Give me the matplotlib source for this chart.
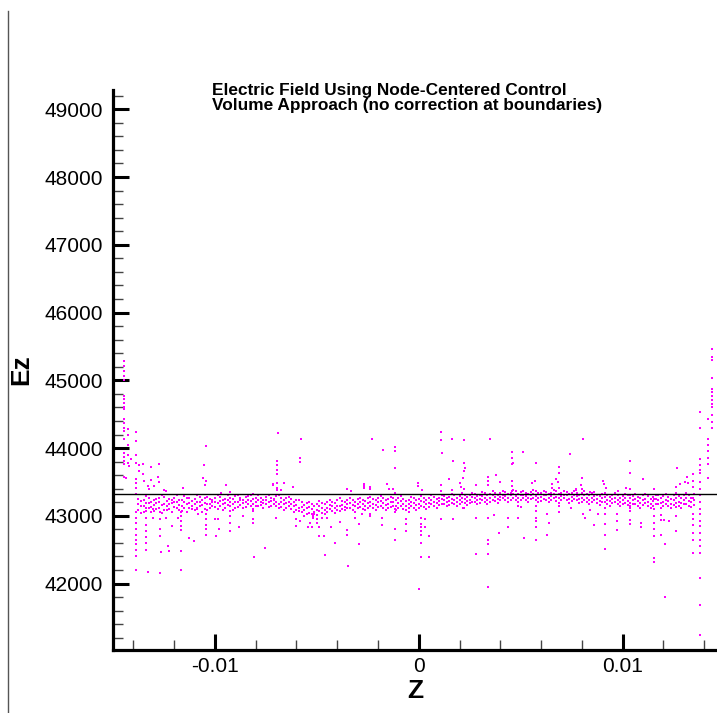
import numpy as np
import matplotlib.pyplot as plt
from matplotlib.ticker import MultipleLocator
from matplotlib.lines import Line2D

plt.rcParams['font.family'] = ['Liberation Sans', 'DejaVu Sans']

# dense band of Ez values (z, three Ez values read at that z)
band = [
    (-0.01375, 43250, 43170, 43080), (-0.01350, 43230, 43150, 43060), (-0.01325, 43270, 43190, 43110),
    (-0.01300, 43240, 43160, 43070), (-0.01275, 43260, 43200, 43120), (-0.01250, 43280, 43180, 43090),
    (-0.01225, 43250, 43170, 43100), (-0.01200, 43270, 43210, 43130), (-0.01175, 43240, 43160, 43080),
    (-0.01150, 43290, 43200, 43110), (-0.01125, 43260, 43190, 43120), (-0.01100, 43250, 43170, 43090),
    (-0.01075, 43280, 43210, 43140), (-0.01050, 43270, 43190, 43100), (-0.01025, 43250, 43180, 43110),
    (-0.01000, 43260, 43200, 43130), (-0.00975, 43280, 43220, 43150), (-0.00950, 43250, 43190, 43120),
    (-0.00925, 43270, 43210, 43140), (-0.00900, 43290, 43200, 43110), (-0.00875, 43260, 43230, 43160),
    (-0.00850, 43280, 43210, 43130), (-0.00825, 43300, 43220, 43150), (-0.00800, 43270, 43200, 43140),
    (-0.00775, 43260, 43210, 43160), (-0.00750, 43280, 43230, 43170), (-0.00725, 43270, 43220, 43150),
    (-0.00700, 43290, 43210, 43140), (-0.00675, 43260, 43200, 43130), (-0.00650, 43270, 43190, 43120),
    (-0.00625, 43250, 43180, 43100), (-0.00600, 43230, 43160, 43080), (-0.00575, 43200, 43130, 43050),
    (-0.00550, 43190, 43110, 43030), (-0.00525, 43180, 43100, 43020), (-0.00500, 43170, 43090, 43010),
    (-0.00475, 43190, 43110, 43040), (-0.00450, 43200, 43120, 43050), (-0.00425, 43210, 43140, 43070),
    (-0.00400, 43230, 43150, 43090), (-0.00375, 43220, 43160, 43100), (-0.00350, 43240, 43170, 43110),
    (-0.00325, 43230, 43160, 43090), (-0.00300, 43250, 43180, 43110), (-0.00275, 43240, 43170, 43100),
    (-0.00250, 43260, 43190, 43120), (-0.00225, 43250, 43180, 43110), (-0.00200, 43270, 43200, 43130),
    (-0.00175, 43260, 43190, 43120), (-0.00150, 43250, 43180, 43110), (-0.00125, 43270, 43200, 43140),
    (-0.00100, 43260, 43190, 43120), (-0.00075, 43250, 43180, 43100), (-0.00050, 43240, 43170, 43110),
    (-0.00025, 43260, 43190, 43120), (0.00000, 43250, 43180, 43110), (0.00025, 43270, 43200, 43130),
    (0.00050, 43260, 43190, 43130), (0.00075, 43280, 43210, 43150), (0.00100, 43270, 43220, 43160),
    (0.00125, 43290, 43230, 43170), (0.00150, 43280, 43220, 43160), (0.00175, 43300, 43240, 43180),
    (0.00200, 43290, 43230, 43170), (0.00225, 43310, 43250, 43190), (0.00250, 43300, 43240, 43190),
    (0.00275, 43320, 43260, 43200), (0.00300, 43310, 43250, 43190), (0.00325, 43330, 43260, 43210),
    (0.00350, 43320, 43270, 43210), (0.00375, 43330, 43280, 43220), (0.00400, 43340, 43280, 43230),
    (0.00425, 43350, 43290, 43230), (0.00450, 43340, 43300, 43240), (0.00475, 43360, 43290, 43230),
    (0.00500, 43350, 43300, 43240), (0.00525, 43340, 43290, 43230), (0.00550, 43350, 43300, 43250),
    (0.00575, 43360, 43290, 43230), (0.00600, 43340, 43280, 43220), (0.00625, 43350, 43300, 43240),
    (0.00650, 43340, 43290, 43230), (0.00675, 43360, 43280, 43220), (0.00700, 43340, 43290, 43240),
    (0.00725, 43350, 43300, 43230), (0.00750, 43340, 43280, 43220), (0.00775, 43330, 43290, 43230),
    (0.00800, 43340, 43270, 43210), (0.00825, 43320, 43260, 43200), (0.00850, 43330, 43270, 43210),
    (0.00875, 43310, 43250, 43190), (0.00900, 43320, 43260, 43200), (0.00925, 43300, 43240, 43180),
    (0.00950, 43310, 43250, 43190), (0.00975, 43300, 43240, 43170), (0.01000, 43290, 43230, 43180),
    (0.01025, 43300, 43220, 43160), (0.01050, 43290, 43230, 43170), (0.01075, 43280, 43220, 43150),
    (0.01100, 43300, 43230, 43160), (0.01125, 43290, 43210, 43140), (0.01150, 43280, 43220, 43150),
    (0.01175, 43300, 43230, 43170), (0.01200, 43290, 43210, 43140), (0.01225, 43280, 43220, 43150),
    (0.01250, 43300, 43230, 43160), (0.01275, 43290, 43210, 43140), (0.01300, 43310, 43240, 43170),
    (0.01325, 43300, 43220, 43150), (0.01350, 43320, 43240, 43160),
]

# second set of band nodes lying between the ones above
band2 = [
    (-0.01362, 43220, 43140, 43040), (-0.01337, 43290, 43190, 43120), (-0.01312, 43210, 43130, 43050),
    (-0.01287, 43250, 43190, 43100), (-0.01262, 43300, 43160, 43040), (-0.01237, 43220, 43150, 43080),
    (-0.01212, 43240, 43190, 43060), (-0.01187, 43310, 43200, 43110), (-0.01162, 43230, 43140, 43070),
    (-0.01137, 43270, 43180, 43050), (-0.01112, 43220, 43150, 43100), (-0.01087, 43300, 43200, 43120),
    (-0.01062, 43240, 43160, 43060), (-0.01037, 43280, 43170, 43090), (-0.01012, 43230, 43210, 43140),
    (-0.00987, 43310, 43190, 43100), (-0.00962, 43240, 43170, 43080), (-0.00937, 43300, 43230, 43160),
    (-0.00912, 43250, 43180, 43090), (-0.00887, 43310, 43200, 43130), (-0.00862, 43240, 43190, 43110),
    (-0.00837, 43290, 43240, 43170), (-0.00812, 43250, 43180, 43100), (-0.00787, 43300, 43230, 43140),
    (-0.00762, 43240, 43190, 43120), (-0.00737, 43310, 43200, 43130), (-0.00712, 43250, 43230, 43170),
    (-0.00687, 43300, 43180, 43110), (-0.00662, 43230, 43170, 43090), (-0.00637, 43280, 43200, 43140),
    (-0.00612, 43210, 43150, 43060), (-0.00587, 43240, 43120, 43070), (-0.00562, 43160, 43080, 43000),
    (-0.00537, 43210, 43130, 43040), (-0.00512, 43150, 43060, 43030), (-0.00487, 43220, 43140, 43070),
    (-0.00462, 43170, 43090, 43020), (-0.00437, 43240, 43160, 43100), (-0.00412, 43190, 43120, 43040),
    (-0.00387, 43260, 43140, 43070), (-0.00362, 43200, 43130, 43080), (-0.00337, 43270, 43190, 43120),
    (-0.00312, 43210, 43140, 43060), (-0.00287, 43270, 43200, 43130), (-0.00262, 43220, 43150, 43090),
    (-0.00237, 43280, 43210, 43140), (-0.00212, 43230, 43160, 43090), (-0.00187, 43290, 43220, 43150),
    (-0.00162, 43230, 43160, 43080), (-0.00137, 43280, 43210, 43130), (-0.00112, 43240, 43150, 43090),
    (-0.00087, 43290, 43220, 43140), (-0.00062, 43220, 43140, 43080), (-0.00037, 43280, 43210, 43140),
    (-0.00012, 43230, 43160, 43090), (0.00012, 43290, 43220, 43150), (0.00037, 43240, 43170, 43100),
    (0.00062, 43300, 43230, 43170), (0.00087, 43250, 43190, 43120), (0.00112, 43310, 43250, 43180),
    (0.00137, 43260, 43200, 43140), (0.00162, 43320, 43250, 43190), (0.00187, 43270, 43210, 43150),
    (0.00212, 43330, 43270, 43200), (0.00237, 43280, 43220, 43160), (0.00262, 43340, 43280, 43210),
    (0.00287, 43290, 43230, 43170), (0.00312, 43350, 43290, 43230), (0.00337, 43300, 43240, 43180),
    (0.00362, 43360, 43300, 43240), (0.00387, 43310, 43250, 43190), (0.00412, 43370, 43310, 43260),
    (0.00437, 43320, 43260, 43200), (0.00462, 43380, 43320, 43270), (0.00487, 43320, 43270, 43210),
    (0.00512, 43370, 43310, 43260), (0.00537, 43320, 43260, 43200), (0.00562, 43380, 43320, 43270),
    (0.00587, 43330, 43270, 43210), (0.00612, 43370, 43310, 43250), (0.00637, 43320, 43260, 43200),
    (0.00662, 43380, 43320, 43260), (0.00687, 43320, 43260, 43190), (0.00712, 43370, 43310, 43260),
    (0.00737, 43320, 43250, 43190), (0.00762, 43360, 43310, 43250), (0.00787, 43310, 43250, 43190),
    (0.00812, 43360, 43300, 43240), (0.00837, 43300, 43230, 43170), (0.00862, 43350, 43290, 43230),
    (0.00887, 43290, 43220, 43160), (0.00912, 43340, 43280, 43210), (0.00937, 43280, 43220, 43150),
    (0.00962, 43330, 43270, 43200), (0.00987, 43270, 43210, 43140), (0.01012, 43320, 43260, 43190),
    (0.01037, 43260, 43190, 43120), (0.01062, 43320, 43250, 43180), (0.01087, 43260, 43190, 43110),
    (0.01112, 43320, 43250, 43190), (0.01137, 43250, 43180, 43110), (0.01162, 43310, 43250, 43180),
    (0.01187, 43260, 43190, 43120), (0.01212, 43320, 43240, 43180), (0.01237, 43250, 43180, 43110),
    (0.01262, 43320, 43260, 43190), (0.01287, 43260, 43190, 43120), (0.01312, 43330, 43260, 43180),
    (0.01337, 43270, 43200, 43130),
]

# scattered points away from the band, grouped as (z, [Ez values])
scatter_cols = [
    (-0.01445, [45280, 45210, 45140, 45070, 45010, 44770, 44720, 44670, 44610, 44570,
                44430, 44370, 44300, 44250, 44140, 43920, 43870, 43810, 43760, 43570]),
    (-0.01424, [44280, 44200, 44050, 43900, 43780]),
    (-0.01412, [43835]), (-0.01420, [43730]), (-0.01436, [43560]),
    (-0.01387, [44230, 44100, 43900, 43780, 43540, 43480, 43410, 43320,
                43050, 42970, 42900, 42800, 42720, 42650, 42580, 42500, 42400, 42200]),
    (-0.01374, [43750, 43660]), (-0.01351, [43760, 43620]),
    (-0.01315, [43720, 43530]), (-0.01281, [43570]), (-0.01272, [43760, 43500]),
    (-0.01346, [43510]), (-0.01326, [43440]), (-0.01321, [43400]), (-0.01298, [43440]),
    (-0.01252, [43380]), (-0.01242, [43360]), (-0.01158, [43410]),
    (-0.01060, [43560]), (-0.01050, [43460]), (-0.01042, [44025, 43520]), (-0.01055, [43750]),
    (-0.01340, [43120, 43070, 42970, 42870, 42770, 42680, 42600, 42490]), (-0.01330, [42170]),
    (-0.01305, [43100, 42970]),
    (-0.01270, [43050, 42950, 42800, 42700, 42155]), (-0.01264, [42460]),
    (-0.01238, [42970]), (-0.01228, [42560]), (-0.01225, [42480]), (-0.01210, [42856]),
    (-0.01181, [42970]),
    (-0.01168, [43060, 42990, 42920, 42850, 42790, 42480, 42200]),
    (-0.01128, [42670]), (-0.01104, [42622]), (-0.01090, [43100]), (-0.01085, [43030]),
    (-0.01042, [43030, 42950, 42870, 42810, 42720]),
    (-0.00692, [44215]), (-0.00578, [44127]), (-0.00581, [43850, 43791]),
    (-0.00697, [43806, 43748, 43674, 43616, 43485, 43412, 43380]),
    (-0.00661, [43485]), (-0.00716, [43470, 43455]), (-0.00677, [43380]),
    (-0.00618, [43427]), (-0.00948, [43456]), (-0.00927, [43350]), (-0.00971, [43340]), (-0.00812, [43320]),
    (-0.01001, [42960]), (-0.00986, [42960]), (-0.00996, [42700]), (-0.00981, [42810]),
    (-0.00926, [43076, 42990, 42900, 42780]),
    (-0.00883, [42830]), (-0.00864, [42990]),
    (-0.00811, [43076, 42960, 42890]), (-0.00755, [42520]), (-0.00809, [42390]),
    (-0.00700, [42973]), (-0.00602, [42960, 42856]),
    (-0.00545, [42830]), (-0.00525, [42830]), (-0.00536, [42890]), (-0.00585, [42930]),
    (-0.00231, [44141]), (-0.00177, [43966]), (-0.00116, [44010]),
    (-0.00119, [43952, 43704, 43330, 43100, 43050, 42810, 42640]),
    (-0.00157, [43470]), (-0.00147, [43400]), (-0.00128, [43400]),
    (-0.00267, [43470, 43412]), (-0.00270, [43440]), (-0.00353, [43390]), (-0.00334, [43370]),
    (-0.00237, [43430, 43390]),
    (-0.00520, [43000, 42970]), (-0.00497, [42900, 42960]),
    (-0.00487, [42830, 42700]), (-0.00466, [42700]), (-0.00473, [42970]), (-0.00449, [42973]),
    (-0.00459, [42420]), (-0.00431, [42830]), (-0.00410, [42594]), (-0.00385, [42915]),
    (-0.00351, [42784, 42710]), (-0.00346, [42258]), (-0.00313, [42973]),
    (-0.00294, [42886, 42580]), (-0.00278, [43030]), (-0.00239, [43030, 42990]),
    (-0.00182, [42973, 42870]), (-0.00065, [42960, 42886, 42770]), (-0.00046, [43060]),
    (0.00109, [44244, 44112, 43456, 43368]), (0.00114, [43923]), (0.00163, [44127, 43380]),
    (0.00224, [44112, 43777, 43660, 43390]), (0.00347, [44127]),
    (0.00167, [43806]), (0.00226, [43704]), (0.00219, [43558]),
    (0.00147, [43543]), (0.00200, [43485]), (-0.00005, [43485, 43441]), (0.00015, [43380]),
    (0.00208, [43420]), (0.00282, [43456]), (0.00342, [43572, 43514, 43456]),
    (0.00379, [43602]), (0.00399, [43500]), (0.00363, [43368]),
    (0.00455, [43937, 43850, 43762, 43514, 43441, 43368]),
    (0.00010, [42973, 42880, 42830, 42770, 42720, 42600, 42390]), (0.00000, [41920]),
    (0.00031, [42960, 42830]), (0.00052, [42700, 42390]),
    (0.00109, [42960]), (0.00167, [42950]), (0.00216, [43120]), (0.00221, [43110]),
    (0.00282, [42973, 42430]), (0.00339, [42973, 42650, 42580, 42430, 41950]),
    (0.00368, [43010]), (0.00396, [42740]), (0.00437, [42840]), (0.00438, [42973]),
    (0.00805, [44127, 43032]), (0.00510, [43937]), (0.00742, [43908]), (0.00461, [43777]),
    (0.00573, [43777, 43150, 43076, 42973, 42930, 42830, 42640]),
    (0.00687, [43718, 43630, 43412, 43150, 43060]), (0.00802, [43558]), (0.00671, [43543]),
    (0.00682, [43500]), (0.00568, [43514]), (0.00554, [43485]), (0.00654, [43470, 43412]),
    (0.00902, [43514]), (0.00907, [43470]), (0.00919, [43412]),
    (0.00795, [43456]), (0.00800, [43400]), (0.00810, [43360]), (0.00772, [43400, 43380]), (0.00838, [43350]),
    (0.00486, [43150, 42973]), (0.00502, [43130]), (0.00514, [42667]),
    (0.00628, [43032, 42724]), (0.00641, [42900]), (0.00747, [43120]), (0.00815, [42973]),
    (0.00842, [43090]), (0.00858, [42870]), (0.00878, [43032]),
    (0.00916, [43120, 43020, 42886, 42724, 42510]),
    (0.01438, [45456, 45339, 45295, 45032, 44871, 44828, 44770, 44711, 44653, 44609, 44492, 44390, 44302]),
    (0.01418, [44434, 44141, 44040, 43950, 43850, 43762, 43558]),
    (0.01382, [44536, 44303, 43835, 43750, 43680, 43630, 43500, 43400, 43300, 43200, 43100, 43032,
               42930, 42850, 42750, 42650, 42550, 42450, 42083, 41690, 41235]),
    (0.01343, [43616, 43520, 43420, 43266, 43032, 42950, 42860, 42740, 42640, 42450]),
    (0.01315, [43580]), (0.01320, [43480]), (0.01308, [43500]),
    (0.01281, [43470]), (0.01268, [43704]), (0.01263, [43420, 43330, 43130, 42990, 42780]),
    (0.01210, [42580, 41805]),
    (0.01153, [43400, 43250, 43100, 43000, 42900, 42800, 42700, 42375, 42317]),
    (0.01037, [43806, 43630, 43400, 43300, 43150, 43070, 42940, 42880]),
    (0.01099, [43543]), (0.00977, [43370]), (0.01017, [43410]), (0.00974, [43032, 42930, 42790]),
    (0.01091, [42900, 42830]), (0.01187, [43010, 42940, 42720]), (0.01203, [42940]), (0.01227, [42920]),
]

ref_level = 43320

z = []
ez = []
for row in band + band2:
    for v in row[1:]:
        z.append(row[0])
        ez.append(v)
for zc, vals in scatter_cols:
    for v in vals:
        z.append(zc)
        ez.append(v)

fig = plt.figure(figsize=(7.17, 7.13), dpi=100)
ax = fig.add_axes([0.1576, 0.0884, 0.8424, 0.7854])

ax.plot(z, ez, 's', color='#ff00ff', markersize=1.7, markeredgewidth=0, linestyle='none')
ax.axhline(ref_level, color='black', linewidth=1.0)

ax.set_xlim(-0.015, 0.01463)
ax.set_ylim(41020, 49285)

ax.xaxis.set_major_locator(MultipleLocator(0.01))
ax.xaxis.set_minor_locator(MultipleLocator(0.002))
ax.yaxis.set_major_locator(MultipleLocator(1000))
ax.yaxis.set_minor_locator(MultipleLocator(200))
ax.set_xticks([-0.01, 0, 0.01])
ax.set_xticklabels(['-0.01', '0', '0.01'])

ax.spines['top'].set_visible(False)
ax.spines['right'].set_visible(False)
ax.spines['left'].set_linewidth(2.3)
ax.spines['bottom'].set_linewidth(2.3)

ax.tick_params(which='major', direction='in', length=11.5, width=2.2, labelsize=15, pad=7)
ax.tick_params(which='minor', direction='in', length=7, width=1.0, color='#444444')
ax.tick_params(axis='x', which='major', pad=5)

ax.set_xlabel('Z', fontsize=19, fontweight='bold', labelpad=2)
ax.set_ylabel('Ez', fontsize=19, fontweight='bold', labelpad=8)

fig.text(0.2957, 0.883, 'Electric Field Using Node-Centered Control\nVolume Approach (no correction at boundaries)',
         fontsize=12.4, fontweight='bold', ha='left', va='top', linespacing=0.95)

fig.add_artist(Line2D([8 / 717, 8 / 717], [0, 1 - 11 / 713], color='#555555', linewidth=1.0))

fig.savefig('out.png', dpi=100)
